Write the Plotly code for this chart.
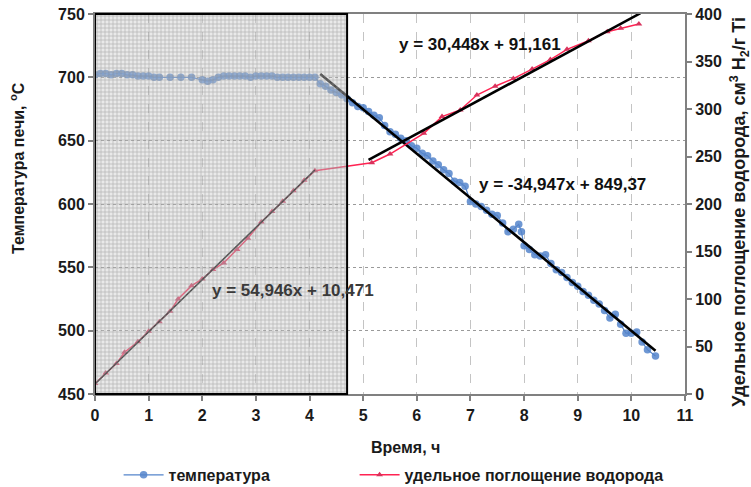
import plotly.graph_objects as go

# ---- data ----
temp_x = [0.0, 0.1, 0.2, 0.3, 0.4, 0.5, 0.6, 0.7, 0.8, 0.9, 1.0, 1.1, 1.2, 1.4, 1.6, 1.8,
          2.0, 2.1, 2.2, 2.3, 2.4, 2.5, 2.6, 2.7, 2.8, 2.9, 3.0, 3.1, 3.2, 3.3, 3.4, 3.5,
          3.6, 3.7, 3.8, 3.9, 4.0, 4.1,
          4.2, 4.3, 4.4, 4.5, 4.6, 4.7, 4.8, 4.9, 5.0, 5.1, 5.2, 5.3, 5.4, 5.5, 5.6, 5.7,
          5.8, 5.9, 6.0, 6.1, 6.2, 6.3, 6.4, 6.5, 6.6, 6.7, 6.8, 6.9, 7.0, 7.1, 7.2, 7.3,
          7.4, 7.5, 7.6, 7.7, 7.8, 7.9, 7.95, 8.0, 8.1, 8.2, 8.3, 8.4, 8.5, 8.6, 8.7, 8.8,
          8.9, 9.0, 9.1, 9.2, 9.3, 9.4, 9.5, 9.6, 9.7, 9.8, 9.9, 10.0, 10.1, 10.2, 10.3, 10.45]
temp_y = [702, 703, 703, 702, 703, 703, 702, 702, 701, 701, 701, 700, 700, 700, 700, 700,
          698, 697, 698, 700, 701, 701, 701, 701, 701, 700, 701, 701, 701, 701, 700, 700,
          700, 700, 700, 700, 700, 700,
          695, 693, 690, 688, 686, 683, 680, 677, 676, 673, 670, 668, 662, 657, 655, 652,
          650, 646, 644, 640, 638, 634, 631, 627, 624, 618, 617, 614, 602, 600, 598, 595,
          592, 591, 585, 578, 580, 584, 578, 567, 564, 560, 559, 560, 553, 548, 546, 542,
          538, 535, 531, 528, 524, 521, 516, 510, 513, 505, 498, 498, 499, 491, 485, 480]

h2_x = [0.0, 0.2, 0.4, 0.55, 0.8, 1.0, 1.2, 1.4, 1.55, 1.8, 2.0, 2.2, 2.4, 2.65, 2.85,
        3.1, 3.3, 3.5, 3.7, 3.9, 4.1, 5.16, 5.5, 6.13, 6.47, 6.81, 7.12, 7.46, 7.8, 8.15,
        8.49, 8.8, 9.2, 9.55, 9.8, 10.14]
h2_y = [11, 22, 32, 44, 55, 66, 76, 87, 100, 114, 121, 131, 138, 152, 164,
        181, 192, 203, 214, 225, 235, 243.5, 252.6, 274.4, 292, 299, 314.7, 324, 332, 342,
        352, 362.8, 371.9, 381.4, 385, 389.5]

# trend lines (coefficients as printed on the chart) and their x spans
trend_h2_a = (54.946, 10.471, [0.0, 4.1])
trend_h2_b = (30.448, 91.161, [5.1, 10.17])
trend_t = (-34.947, 849.37, [4.2, 10.45])

labels_eq = ["y = 54,946x + 10,471", "y = 30,448x + 91,161", "y = -34,947x + 849,37"]
title_x = "Время, ч"
title_y = "Температура печи, <sup>o</sup>С"
title_y2 = "Удельное поглощение водорода, см<sup>3</sup> H<sub>2</sub>/г Ti"
shade_end = 4.7

FONT = "Liberation Sans, Arial, sans-serif"
BLUE = "#5585cb"
RED = "#ff2352"

fig = go.Figure()

fig.add_trace(go.Scatter(
    x=temp_x, y=temp_y, name="температура", mode="lines+markers",
    line=dict(color=BLUE, width=1.2),
    marker=dict(symbol="circle", size=7.5, color=BLUE, opacity=0.85),
    yaxis="y", legend="legend"))

fig.add_trace(go.Scatter(
    x=h2_x, y=h2_y, name="удельное поглощение водорода", mode="lines+markers",
    line=dict(color=RED, width=1.5),
    marker=dict(symbol="triangle-up", size=6, color="#d8325c"),
    yaxis="y2", legend="legend2"))

def tline(coef, axis, width):
    a, b, xs = coef
    return go.Scatter(x=xs, y=[a * v + b for v in xs], mode="lines",
                      line=dict(color="black", width=width), showlegend=False,
                      hoverinfo="skip", yaxis=axis)

fig.add_trace(tline(trend_h2_a, "y2", 1.6))
fig.add_trace(tline(trend_h2_b, "y2", 2.6))
fig.add_trace(tline(trend_t, "y", 2.6))

# hatched overlay for the first stage (drawn above data on an overlay axis)
fig.add_trace(go.Bar(
    x=[shade_end / 2], y=[300], base=[450], width=[shade_end],
    marker=dict(color="rgba(185,185,185,0.45)", line=dict(width=0),
                pattern=dict(shape="+", size=4, solidity=0.3,
                             fgcolor="#8a8a8a", fgopacity=0.6,
                             bgcolor="rgba(200,200,200,0.4)")),
    showlegend=False, hoverinfo="skip", xaxis="x3", yaxis="y3"))

tickfont = dict(family=FONT, size=16, color="#1a1a1a", weight="bold")
titlefont = dict(family=FONT, size=16, color="#1a1a1a", weight="bold")
legfont = dict(family=FONT, size=16, color="#1a1a1a", weight="bold")
axcol = "#808080"

fig.update_layout(
    width=751, height=487,
    margin=dict(l=95, r=66, t=14, b=93, autoexpand=False),
    paper_bgcolor="white", plot_bgcolor="white",
    font=dict(family=FONT),
    showlegend=True,
    legend=dict(orientation="h", x=0.04, xanchor="left", y=-0.213, yanchor="middle",
                font=legfont, itemwidth=40, bgcolor="rgba(0,0,0,0)"),
    legend2=dict(orientation="h", x=0.44, xanchor="left", y=-0.213, yanchor="middle",
                 font=legfont, itemwidth=40, bgcolor="rgba(0,0,0,0)"),
    xaxis=dict(range=[0, 11], dtick=1, tick0=0, showline=True, linecolor=axcol,
               linewidth=2, mirror=True, ticks="outside", ticklen=5, tickcolor=axcol,
               tickwidth=2, showgrid=True, gridcolor="#c4c4c4", griddash="dash",
               gridwidth=1, zeroline=False, tickfont=tickfont, ticklabelstandoff=1,
               automargin=False),
    yaxis=dict(range=[450, 750], dtick=50, tick0=450, showline=True, linecolor=axcol,
               linewidth=2, mirror=True, ticks="outside", ticklen=5, tickcolor=axcol,
               tickwidth=2, showgrid=True, gridcolor="#9a9a9a", griddash="dot",
               gridwidth=1, zeroline=False, tickfont=tickfont, automargin=False),
    yaxis2=dict(range=[0, 400], dtick=50, tick0=0, overlaying="y", side="right",
                showline=True, linecolor=axcol, linewidth=2, ticks="outside",
                ticklen=5, tickcolor=axcol, tickwidth=2, showgrid=False,
                zeroline=False, tickfont=tickfont, automargin=False),
    xaxis3=dict(range=[0, 11], overlaying="x", visible=False, fixedrange=True),
    yaxis3=dict(range=[450, 750], overlaying="y", visible=False, fixedrange=True),
    bargap=0,
)

fig.add_shape(type="rect", xref="x", yref="paper", x0=0, x1=shade_end, y0=0, y1=1,
              line=dict(color="black", width=2), fillcolor="rgba(0,0,0,0)", layer="above")

# axis titles placed as annotations (positions follow the reference)
fig.add_annotation(x=0.527, y=-0.142, xref="paper", yref="paper", text=title_x,
                   showarrow=False, font=titlefont, xanchor="center", yanchor="middle")
fig.add_annotation(x=-0.132, y=0.595, xref="paper", yref="paper", text=title_y,
                   showarrow=False, font=titlefont, textangle=-90,
                   xanchor="center", yanchor="middle")
fig.add_annotation(x=1.093, y=0.479, xref="paper", yref="paper", text=title_y2,
                   showarrow=False, font=dict(family=FONT, size=18, color="#1a1a1a", weight="bold"),
                   textangle=-90, xanchor="center", yanchor="middle")

eqfont = dict(family=FONT, size=17, color="#111111", weight="bold")
fig.add_annotation(x=3.69, y=0.242, xref="x", yref="paper", text=labels_eq[0],
                   showarrow=False, font=dict(family=FONT, size=17, color="#3a3a3a", weight="bold"))
fig.add_annotation(x=7.18, y=0.95, xref="x", yref="paper", text=labels_eq[1],
                   showarrow=False, font=eqfont)
fig.add_annotation(x=8.71, y=0.55, xref="x", yref="paper", text=labels_eq[2],
                   showarrow=False, font=eqfont)

fig.write_html("out.html")
